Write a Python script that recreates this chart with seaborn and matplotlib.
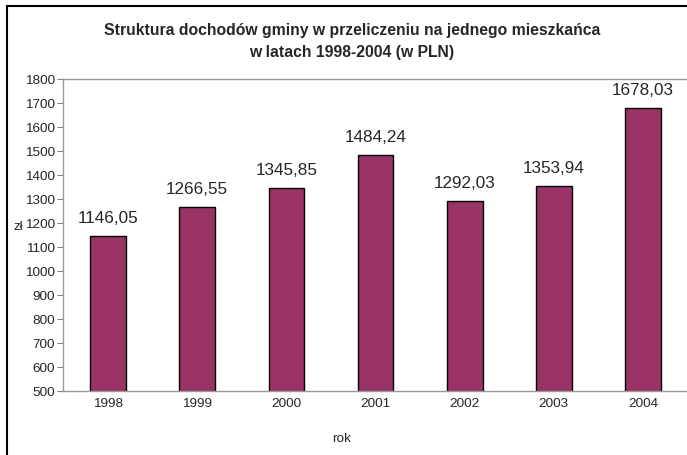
import matplotlib
matplotlib.use("Agg")
import matplotlib.pyplot as plt
import seaborn as sns
from matplotlib.patches import Rectangle

sns.set_style("white")
plt.rcParams['font.family'] = ['Liberation Sans', 'DejaVu Sans']

years = ["1998", "1999", "2000", "2001", "2002", "2003", "2004"]
values = [1146.05, 1266.55, 1345.85, 1484.24, 1292.03, 1353.94, 1678.03]
yticks = list(range(500, 1801, 100))

fig = plt.figure(figsize=(6.87, 4.56), dpi=100)
ax = fig.add_axes([0.0924, 0.1404, 0.9085, 0.6842])

sns.barplot(x=years, y=values, color="#993366", edgecolor="black",
            linewidth=1, width=0.4, saturation=1, ax=ax)

ax.set_xlim(-0.5, 6.5)
ax.set_ylim(500, 1800)
ax.set_yticks(yticks)
ax.tick_params(axis="y", length=4, width=0.8, color="#808080",
               labelsize=9.7, pad=2, direction="out", left=True)
ax.tick_params(axis="x", length=0, labelsize=9.7, pad=4)

for side in ["left", "top", "bottom", "right"]:
    ax.spines[side].set_color("#999999")
    ax.spines[side].set_linewidth(1)

labels = [f"{v:.2f}".replace(".", ",") for v in values]
ax.bar_label(ax.containers[0], labels=labels, padding=8, fontsize=12.3)

ax.set_ylabel("zł", rotation=0, fontsize=9.7, va="center", ha="center")
ax.yaxis.set_label_coords(-0.073, 0.53)
ax.set_xlabel("rok", fontsize=9.7)
ax.xaxis.set_label_coords(0.445, -0.13)

fig.text(352 / 687, 1 - 30 / 456, "Struktura dochodów gminy w przeliczeniu na jednego mieszkańca",
         ha="center", va="center", fontsize=11.3, fontweight="bold")
fig.text(352 / 687, 1 - 53 / 456, "w latach 1998-2004 (w PLN)",
         ha="center", va="center", fontsize=11.3, fontweight="bold")

fig.patches.append(Rectangle((7 / 687, -0.1), 1.2, 1 - 7 / 456 + 0.1,
                             transform=fig.transFigure, fill=False,
                             edgecolor="black", linewidth=1.5))

fig.savefig("out.png", dpi=100)
